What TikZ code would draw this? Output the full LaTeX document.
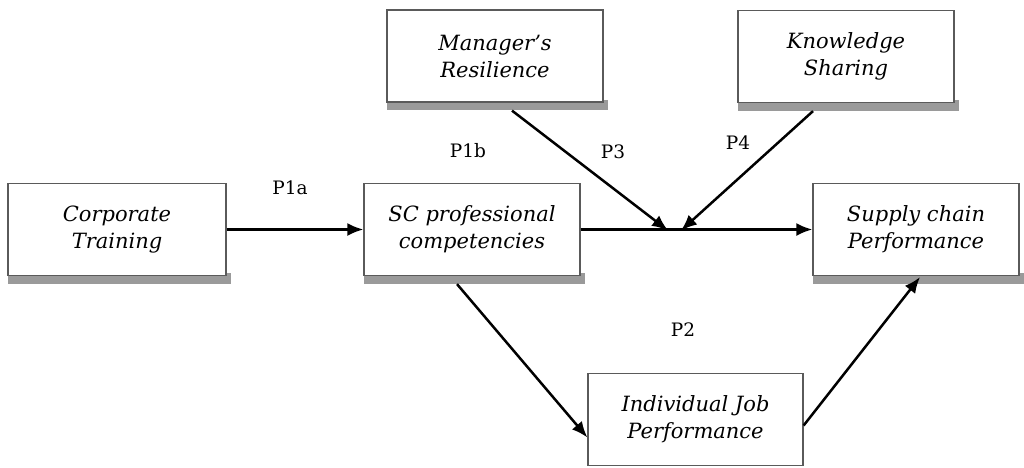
\documentclass[tikz,border=0pt]{standalone}
\usepackage{fontspec}
\setmainfont{DejaVu Serif}
\usetikzlibrary{arrows.meta,calc,backgrounds}
\definecolor{bordergray}{HTML}{5A5A5A}
\definecolor{shadowgray}{HTML}{9A9A9A}
\tikzset{
  box/.style={draw=bordergray, line width=1.2pt, fill=white, rectangle,
    minimum width=216pt, minimum height=92pt, inner sep=0pt,
    align=center, font=\fontsize{21}{27}\selectfont\itshape},
  conn/.style={line width=2.5pt, -{Latex[length=16pt,width=13pt]}},
  plabel/.style={font=\fontsize{18.5}{22}\selectfont, inner sep=0pt}
}
\begin{document}
\begin{tikzpicture}[x=1pt,y=-1pt]
\useasboundingbox (0,0) rectangle (1024,467);
% boxes
\node[box, minimum width=218pt] (CT) at (117,229.5) {Corporate\\Training};
\node[box] (SC) at (472,229.5) {SC professional\\competencies};
\node[box] (MR) at (495,56) {Manager's\\Resilience};
\node[box] (KS) at (846,56.5) {Knowledge\\Sharing};
\node[box, minimum width=206pt] (SCP) at (916,229.5) {Supply chain\\Performance};
\node[box, minimum width=215pt] (IJP) at (695.5,419.5) {Individual Job\\Performance};
% shadows
\begin{scope}[on background layer]
\fill[white] (0,0) rectangle (1024,467);
\foreach \n in {CT,SC,MR,KS,SCP}{
  \fill[shadowgray] ($(\n.south west)+(1,-3)$) rectangle ($(\n.south east)+(4,7.5)$);
}
\end{scope}
% junction points
\coordinate (J3) at (668,230.5);
\coordinate (J4) at (681,230.5);
% connectors
\draw[conn] (CT.east) -- (SC.west);
\draw[conn] (SC.east) -- (SCP.west);
\draw[conn] ($(MR.south)+(17,8)$) -- (J3);
\draw[conn] ($(KS.south)+(-33,8)$) -- (J4);
\draw[conn] ($(SC.south)+(-15,8)$) -- ($(IJP.west)+(0,18)$);
\draw[conn] ($(IJP.east)+(0,6)$) -- ($(SCP.south)+(4,1)$);
% labels
\node[plabel] (L1a) at (290,188) {P1a};
\node[plabel] (L1b) at (468,151) {P1b};
\node[plabel] (L3) at (613,152) {P3};
\node[plabel] (L4) at (738,143) {P4};
\node[plabel] (L2) at (683,330) {P2};
\end{tikzpicture}
\end{document}
